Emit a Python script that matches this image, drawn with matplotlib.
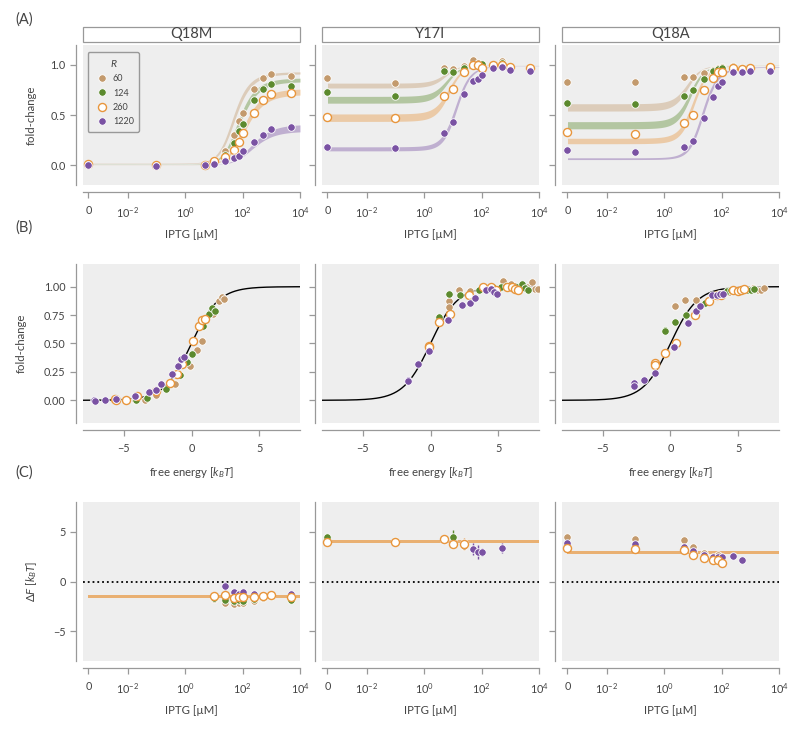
import numpy as np
import matplotlib
matplotlib.use("Agg")
import matplotlib.pyplot as plt
from matplotlib.patches import Rectangle
from matplotlib.lines import Line2D
from matplotlib.ticker import NullLocator

plt.rcParams['font.family'] = ['Lato', 'DejaVu Sans']
plt.rcParams['mathtext.fontset'] = 'custom'
plt.rcParams['mathtext.rm'] = 'Lato'
plt.rcParams['mathtext.it'] = 'Lato:italic'
plt.rcParams['mathtext.bf'] = 'Lato:bold'

nan = np.nan

mutants = ['Q18M', 'Y17I', 'Q18A']
repressors = [60, 124, 260, 1220]
iptg = [0, 0.1, 5, 10, 25, 50, 75, 100, 250, 500, 1000, 5000]
colors = ['#c39a6d', '#5c8a2e', '#e8963d', '#7a52a3']

# measured fold-change, one row per repressor copy number (60, 124, 260, 1220)
fc_q18m = [[0.01, 0.0, 0.0, 0.05, 0.14, 0.30, 0.44, 0.52, 0.76, 0.87, 0.91, 0.89],
           [0.0, 0.0, 0.0, 0.02, 0.10, 0.22, 0.34, 0.41, 0.65, 0.76, 0.81, 0.79],
           [0.01, 0.0, 0.0, 0.04, 0.08, 0.15, 0.23, 0.32, 0.52, 0.65, 0.71, 0.72],
           [0.0, -0.01, 0.0, 0.01, 0.04, 0.07, 0.09, 0.14, 0.23, 0.30, 0.36, 0.38]]
fc_y17i = [[0.87, 0.82, 0.97, 0.96, 0.99, 1.05, 1.02, 1.01, 1.0, 1.04, 0.98, 0.98],
           [0.73, 0.69, 0.94, 0.93, 0.97, 1.0, 1.0, 1.01, 1.0, 1.02, 0.99, 0.97],
           [0.48, 0.47, 0.69, 0.76, 0.93, 1.0, 1.0, 0.97, 1.0, 1.0, 0.98, 0.97],
           [0.18, 0.17, 0.32, 0.43, 0.71, 0.84, 0.86, 0.90, 0.97, 0.98, 0.95, 0.94]]
fc_q18a = [[0.83, 0.83, 0.88, 0.88, 0.92, 0.95, 0.97, 0.98, 0.99, 0.97, 0.97, 0.99],
           [0.62, 0.61, 0.69, 0.75, 0.86, 0.94, 0.96, 0.97, 0.98, 0.97, 0.97, 0.98],
           [0.33, 0.31, 0.42, 0.50, 0.75, 0.87, 0.93, 0.93, 0.97, 0.96, 0.97, 0.98],
           [0.15, 0.13, 0.18, 0.24, 0.47, 0.68, 0.79, 0.83, 0.93, 0.93, 0.94, 0.94]]

# inferred free energy shift per point
df_q18m = [[nan, nan, nan, -1.8, -2.2, -2.3, -2.2, -2.15, -2.0, -1.7, -1.5, -1.8],
           [nan, nan, nan, -1.7, -1.85, -2.0, -1.9, -1.95, -1.75, -1.6, -1.5, -1.85],
           [nan, nan, nan, -1.42, -1.32, -1.65, -1.6, -1.55, -1.55, -1.48, -1.39, -1.55],
           [nan, nan, nan, -1.5, -0.45, -1.05, -1.3, -1.1, -1.25, -1.4, -1.35, -1.3]]
df_y17i = [[4.1, 4.05, 4.2, 4.3, 3.55, nan, nan, nan, nan, nan, nan, nan],
           [4.45, 4.1, 4.3, 4.43, 3.9, nan, nan, nan, nan, nan, nan, nan],
           [4.02, 4.02, 4.26, 3.75, 3.82, nan, nan, nan, nan, nan, nan, nan],
           [4.0, 3.95, 4.2, 3.8, 3.85, 3.31, 3.0, 3.0, nan, 3.41, nan, nan]]
df_q18a = [[4.43, 4.26, 4.15, 3.5, 2.9, nan, 2.7, nan, nan, nan, nan, nan],
           [3.7, 3.6, 3.35, 3.0, 2.6, 2.4, 2.3, 2.3, nan, nan, nan, nan],
           [3.41, 3.31, 3.14, 2.63, 2.33, 2.13, 2.13, 1.89, nan, nan, nan, nan],
           [3.92, 3.75, 3.48, 3.07, 2.63, 2.46, 2.5, 2.46, 2.57, 2.13, nan, nan]]
df_err_q18m = [[0, 0, 0, 0.3, 0.3, 0.3, 0.3, 0.3, 0.2, 0.2, 0.2, 0.2],
               [0, 0, 0, 0.3, 0.3, 0.3, 0.3, 0.3, 0.2, 0.2, 0.2, 0.2],
               [0, 0, 0, 0.2, 0.2, 0.2, 0.2, 0.2, 0.2, 0.2, 0.2, 0.2],
               [0, 0, 0, 0.3, 0.4, 0.3, 0.3, 0.3, 0.2, 0.2, 0.2, 0.2]]
df_err_y17i = [[0.2, 0.2, 0.2, 0.2, 0.4, 0, 0, 0, 0, 0, 0, 0],
               [0.2, 0.2, 0.3, 0.8, 0.4, 0, 0, 0, 0, 0, 0, 0],
               [0.1, 0.1, 0.2, 0.3, 0.6, 0, 0, 0, 0, 0, 0, 0],
               [0.2, 0.2, 0.2, 0.3, 0.3, 0.6, 0.7, 0.4, 0, 0.5, 0, 0]]
df_err_q18a = [[0.2, 0.2, 0.3, 0.3, 0.3, 0, 0.3, 0, 0, 0, 0, 0],
               [0.2, 0.2, 0.2, 0.2, 0.2, 0.2, 0.2, 0.2, 0, 0, 0, 0],
               [0.1, 0.1, 0.1, 0.2, 0.2, 0.2, 0.2, 0.2, 0, 0, 0, 0],
               [0.2, 0.2, 0.2, 0.2, 0.2, 0.2, 0.3, 0.2, 0.3, 0.2, 0, 0]]

fc_data = [fc_q18m, fc_y17i, fc_q18a]
df_data = [df_q18m, df_y17i, df_q18a]
df_err = [df_err_q18m, df_err_y17i, df_err_q18a]

# MWC model constants (kBT, uM)
ka, ki, ep_ai, n_ns = 139.0, 0.53, 4.5, 4.6e6
ep_wt = -13.9
delta_f = [-1.5, 4.0, 2.95]
delta_f_sig = 0.15


def p_act(c):
    c = np.asarray(c, dtype=float)
    a = (1 + c / ka) ** 2
    return a / (a + np.exp(-ep_ai) * (1 + c / ki) ** 2)


def free_energy(c, r, ep):
    return -np.log(p_act(c)) - np.log(r / n_ns) + ep


def fold_change(f):
    return 1 / (1 + np.exp(-f))


def marker_style(k):
    # R = 260 is the open (fitted) strain
    if repressors[k] == 260:
        return dict(ms=5.8, mfc='white', mec=colors[k], mew=1.0)
    return dict(ms=5.4, mfc=colors[k], mec='white', mew=0.6)


# in the shift panels the open 260 markers sit on top
order_ab = [0, 1, 2, 3]
order_c = [0, 1, 3, 2]

bg = '#eeeeee'
spine_c = '#999999'
text_c = '#444444'

fig = plt.figure(figsize=(8.04, 7.31), dpi=100)
W, H = 804, 731
col_x = [83, 322, 562]
col_w = 217
rows_y = [(45, 185), (264, 423), (502, 661)]


def make_ax(x0, y0, y1):
    ax = fig.add_axes([x0 / W, 1 - y1 / H, col_w / W, (y1 - y0) / H])
    ax.set_facecolor(bg)
    for s in ['top', 'right']:
        ax.spines[s].set_visible(False)
    for s in ['left', 'bottom']:
        ax.spines[s].set_position(('outward', 5))
        ax.spines[s].set_color(spine_c)
        ax.spines[s].set_linewidth(0.9)
    ax.tick_params(direction='out', length=4, width=0.9, color=spine_c,
                   labelcolor=text_c, labelsize=7.8)
    ax.tick_params(axis='x', pad=5.5)
    return ax


def iptg_axis(ax):
    ax.set_xscale('symlog', linthresh=1e-2, linscale=1.23)
    ax.set_xlim(-1.4e-3, 1e4)
    ax.set_xticks([0, 1e-2, 1, 1e2, 1e4])
    ax.set_xticklabels(['0', '$10^{-2}$', '$10^{0}$', '$10^{2}$', '$10^{4}$'])
    ax.xaxis.set_minor_locator(NullLocator())
    ax.set_xlabel('IPTG [µM]', fontsize=8.2, color=text_c, labelpad=7)


c_grid = np.concatenate([[0], np.logspace(-3, 4, 400)])
f_grid = np.linspace(-8, 8, 300)

for j, mut in enumerate(mutants):
    ep = ep_wt + delta_f[j]

    # (A) induction profiles
    ax = make_ax(col_x[j], *rows_y[0])
    iptg_axis(ax)
    ax.set_ylim(-0.2, 1.2)
    ax.set_yticks([0, 0.5, 1.0])
    for k, r in enumerate(repressors):
        lo = fold_change(free_energy(c_grid, r, ep - delta_f_sig))
        hi = fold_change(free_energy(c_grid, r, ep + delta_f_sig))
        ax.fill_between(c_grid, lo, hi, color=colors[k], alpha=0.4, lw=0, zorder=1)
    for k in order_ab:
        ax.plot(iptg, fc_data[j][k], 'o', zorder=3, **marker_style(k))
    ax.add_patch(Rectangle((0, 1 + 3 / 140), 1, 15 / 140, transform=ax.transAxes,
                           facecolor='white', edgecolor=spine_c, lw=0.9, clip_on=False))
    ax.text(0.5, 1 + 10.5 / 140, mut, transform=ax.transAxes, ha='center', va='center',
            fontsize=10.5, color=text_c)
    if j == 0:
        ax.set_ylabel('fold-change', fontsize=8.2, color=text_c, labelpad=10)
        handles = [Line2D([], [], ls='none', marker='o', label=str(r), **marker_style(k))
                   for k, r in enumerate(repressors)]
        leg = ax.legend(handles=handles, title='$R$', loc='upper left', fontsize=6.5,
                        title_fontsize=7.5, frameon=True, facecolor=bg, edgecolor=spine_c,
                        framealpha=1, borderpad=0.6, handletextpad=0.2, labelspacing=0.6,
                        bbox_to_anchor=(0.0, 0.98))
        for t in leg.get_texts():
            t.set_color(text_c)
        leg.get_title().set_color(text_c)
    else:
        ax.set_yticklabels([])

    # (B) data collapse
    ax = make_ax(col_x[j], *rows_y[1])
    ax.set_xlim(-8, 8)
    ax.set_ylim(-0.2, 1.2)
    ax.set_xticks([-5, 0, 5])
    ax.set_yticks([0, 0.25, 0.5, 0.75, 1.0])
    ax.plot(f_grid, fold_change(f_grid), color='black', lw=1, zorder=1)
    for k in order_ab:
        ax.plot(free_energy(iptg, repressors[k], ep), fc_data[j][k], 'o', zorder=3,
                **marker_style(k))
    ax.set_xlabel('free energy [$k_BT$]', fontsize=8.2, color=text_c, labelpad=8)
    if j == 0:
        ax.set_ylabel('fold-change', fontsize=8.2, color=text_c, labelpad=12)
    else:
        ax.set_yticklabels([])

    # (C) inferred free energy shift
    ax = make_ax(col_x[j], *rows_y[2])
    iptg_axis(ax)
    ax.set_ylim(-8, 8)
    ax.set_yticks([-5, 0, 5])
    ax.plot([-1.4e-3, 1e4], [0, 0], ':', color='black', lw=1.3, zorder=1)
    ax.fill_between(c_grid, delta_f[j] - delta_f_sig, delta_f[j] + delta_f_sig,
                    color=colors[2], alpha=0.7, lw=0, zorder=2)
    for k in order_c:
        ax.errorbar(iptg, df_data[j][k], yerr=df_err[j][k], fmt='none', ecolor=colors[k],
                    elinewidth=1, zorder=3)
        ax.plot(iptg, df_data[j][k], 'o', zorder=4, **marker_style(k))
    if j == 0:
        ax.set_ylabel('$\\Delta F$ [$k_BT$]', fontsize=8.2, color=text_c, labelpad=10)
    else:
        ax.set_yticklabels([])

for lbl, y in zip(['(A)', '(B)', '(C)'], [20, 228, 473]):
    fig.text(15 / W, 1 - y / H, lbl, fontsize=10.5, color=text_c, va='center')

fig.savefig('out.png', dpi=100)
